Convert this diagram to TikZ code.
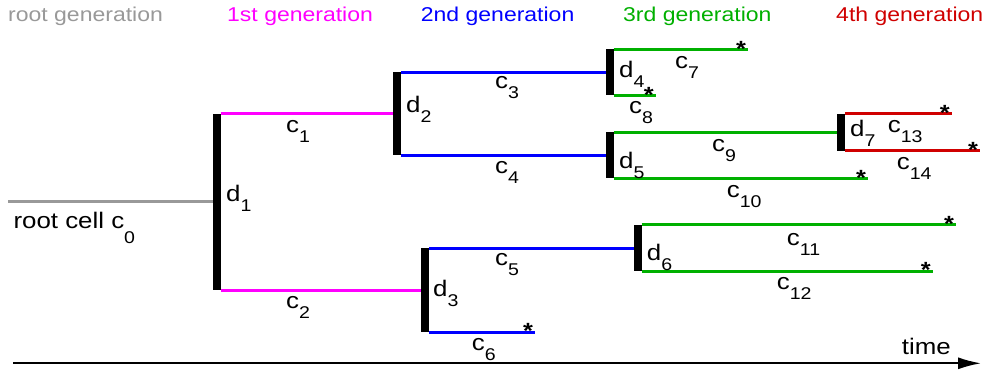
\documentclass[tikz,border=0pt]{standalone}
\usepackage{fontspec}
\setmainfont{Liberation Sans}[FakeStretch=1.15]
\usetikzlibrary{arrows.meta,positioning}
\definecolor{genRoot}{HTML}{999999}
\definecolor{genOne}{HTML}{FF00FF}
\definecolor{genTwo}{HTML}{0000FF}
\definecolor{genThree}{HTML}{00B000}
\definecolor{genFour}{HTML}{D00000}
\newcommand{\idx}[3][10pt]{#2\raisebox{-#1}{\fontsize{17}{17}\selectfont #3}}
\begin{document}
\begin{tikzpicture}[x=1pt,y=-1pt,>=Latex,line join=round]
\useasboundingbox[fill=white] (0,0) rectangle (984,371);
\tikzset{branch/.style={line width=3pt},div/.style={fill=black,minimum width=8pt,inner sep=0pt,outer sep=0pt},lbl/.style={anchor=base west,inner sep=0pt,font=\fontsize{22.5}{27}\selectfont},head/.style={anchor=base west,inner sep=0pt,font=\fontsize{20}{24}\selectfont},leafstar/.style={anchor=base,inner sep=0pt,font=\bfseries\fontsize{22}{22}\selectfont,xshift=-7pt,yshift=-6.6pt}}
\node[head,text=genRoot] (h0) at (8,21.5) {root generation};
\node[head,text=genOne] (h1) at (227,21.5) {1st generation};
\node[head,text=genTwo] (h2) at (420.7,21.5) {2nd generation};
\node[head,text=genThree] (h3) at (623,21.5) {3rd generation};
\node[head,text=genFour] (h4) at (836,21.5) {4th generation};
\node[div,minimum height=176pt] (d1) at (216.5,202) {};
\node[div,minimum height=83pt] (d2) at (397,114) {};
\node[div,minimum height=84pt] (d3) at (425,290) {};
\node[div,minimum height=46pt] (d4) at (609.5,72.5) {};
\node[div,minimum height=46pt] (d5) at (609.5,155.5) {};
\node[div,minimum height=46pt] (d6) at (637.5,248) {};
\node[div,minimum height=37pt] (d7) at (841,132.5) {};
\coordinate (c0s) at (8,202);
\coordinate (c6e) at (535,332);
\coordinate (c7e) at (748,49.5);
\coordinate (c8e) at (655.7,95.5);
\coordinate (c10e) at (868,178.5);
\coordinate (c11e) at (956,225);
\coordinate (c12e) at (932.7,271);
\coordinate (c13e) at (951.7,114);
\coordinate (c14e) at (980,151);
\draw[branch,genRoot] (c0s) -- (d1.west);
\draw[branch,genOne] (d1.north east) -- (d2.west);
\draw[branch,genOne] (d1.south east) -- (d3.west);
\draw[branch,genTwo] (d2.north east) -- (d4.west);
\draw[branch,genTwo] (d2.south east) -- (d5.west);
\draw[branch,genTwo] (d3.north east) -- (d6.west);
\draw[branch,genTwo] (d3.south east) -- (c6e);
\draw[branch,genThree] (d4.north east) -- (c7e);
\draw[branch,genThree] (d4.south east) -- (c8e);
\draw[branch,genThree] (d5.north east) -- (d7.west);
\draw[branch,genThree] (d5.south east) -- (c10e);
\draw[branch,genThree] (d6.north east) -- (c11e);
\draw[branch,genThree] (d6.south east) -- (c12e);
\draw[branch,genFour] (d7.north east) -- (c13e);
\draw[branch,genFour] (d7.south east) -- (c14e);
\node[leafstar] (s6) at (c6e) {*};
\node[leafstar] (s7) at (c7e) {*};
\node[leafstar] (s8) at (c8e) {*};
\node[leafstar] (s10) at (c10e) {*};
\node[leafstar] (s11) at (c11e) {*};
\node[leafstar] (s12) at (c12e) {*};
\node[leafstar] (s13) at (c13e) {*};
\node[leafstar] (s14) at (c14e) {*};
\node[lbl] (c0t) at (13.3,229) {root cell \idx[15pt]{c}{0}};
\node[lbl] (c1t) at (286,132.7) {\idx{c}{1}};
\node[lbl] (c2t) at (286,308) {\idx{c}{2}};
\node[lbl] (c3t) at (495,89) {\idx{c}{3}};
\node[lbl] (c4t) at (495,173.3) {\idx{c}{4}};
\node[lbl] (c5t) at (495,265.5) {\idx{c}{5}};
\node[lbl] (c6t) at (471.7,350) {\idx{c}{6}};
\node[lbl] (c7t) at (675,68.3) {\idx{c}{7}};
\node[lbl] (c8t) at (629,113.3) {\idx{c}{8}};
\node[lbl] (c9t) at (712,151.7) {\idx{c}{9}};
\node[lbl] (c10t) at (726.7,197.3) {\idx{c}{10}};
\node[lbl] (c11t) at (786.7,245) {\idx{c}{11}};
\node[lbl] (c12t) at (776.7,289.3) {\idx{c}{12}};
\node[lbl] (c13t) at (887.7,132.3) {\idx{c}{13}};
\node[lbl] (c14t) at (896.7,170) {\idx{c}{14}};
\node[lbl] (d1t) at (226,201.7) {\idx{d}{1}};
\node[lbl] (d2t) at (406,113) {\idx{d}{2}};
\node[lbl] (d3t) at (433,296.7) {\idx{d}{3}};
\node[lbl] (d4t) at (619,77.3) {\idx{d}{4}};
\node[lbl] (d5t) at (619,168.3) {\idx{d}{5}};
\node[lbl] (d6t) at (646.7,260) {\idx{d}{6}};
\node[lbl] (d7t) at (850,136.7) {\idx{d}{7}};
\coordinate (t0) at (13,363.3);
\coordinate (t1) at (981,363.3);
\draw[line width=1.8pt,-{Latex[length=23pt,width=12pt]}] (t0) -- (t1);
\node[lbl] (time) at (901.7,354) {time};
\end{tikzpicture}
\end{document}
